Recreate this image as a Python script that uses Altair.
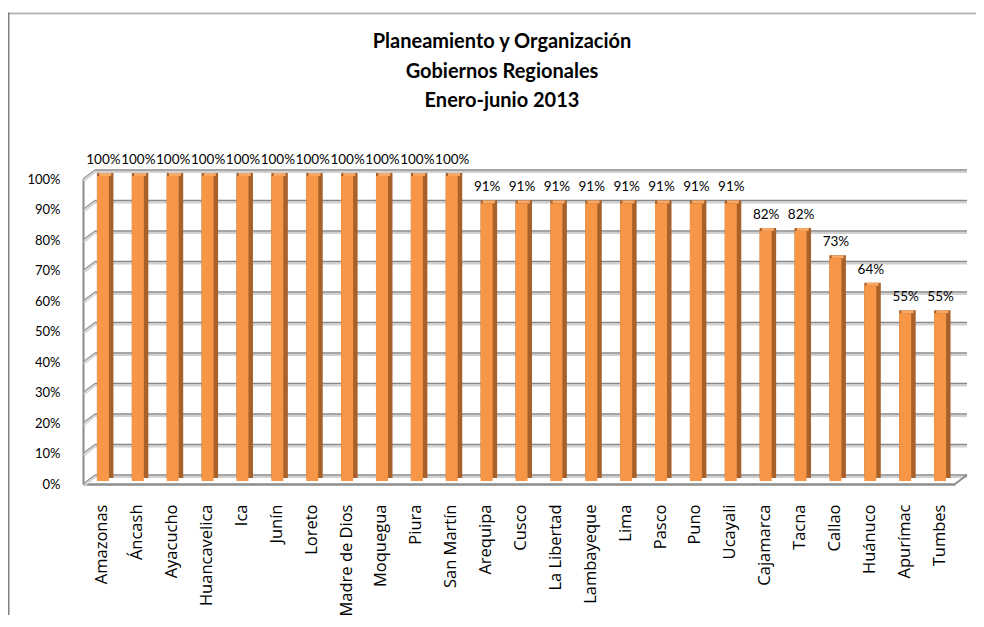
import altair as alt
import pandas as pd

# ---------------- data ----------------
REGIONS = ["Amazonas", "Áncash", "Ayacucho", "Huancavelica", "Ica", "Junín",
           "Loreto", "Madre de Dios", "Moquegua", "Piura", "San Martín",
           "Arequipa", "Cusco", "La Libertad", "Lambayeque", "Lima", "Pasco",
           "Puno", "Ucayali", "Cajamarca", "Tacna", "Callao", "Huánuco",
           "Apurímac", "Tumbes"]
VALUES = [1.00, 1.00, 1.00, 1.00, 1.00, 1.00, 1.00, 1.00, 1.00, 1.00, 1.00,
          0.91, 0.91, 0.91, 0.91, 0.91, 0.91, 0.91, 0.91,
          0.82, 0.82, 0.73, 0.64, 0.55, 0.55]
TICKS = [0.0, 0.1, 0.2, 0.3, 0.4, 0.5, 0.6, 0.7, 0.8, 0.9, 1.0]
TITLE_LINES = ["Planeamiento y Organización", "Gobiernos Regionales", "Enero-junio 2013"]

df = pd.DataFrame({"region": REGIONS, "valor": VALUES})

# ---------------- geometry / style ----------------
W, H = 872, 305
DX, DY = 12, -9
FRONT = "#F79646"
SIDE = "#A9612B"
TOP = "#F9A866"

yscale = alt.Scale(domain=[0, 1], nice=False, zero=True)
xenc = alt.X("region:N", sort=REGIONS,
             scale=alt.Scale(paddingInner=0, paddingOuter=0),
             axis=alt.Axis(title=None, labelAngle=-90, labelFont="Open Sans",
                           labelFontSize=16.5, labelColor="#000000",
                           labelPadding=20, labelOffset=2, ticks=False, tickSize=0,
                           domainColor="#8c8c8c", domainWidth=2.5, grid=False))
yaxis = alt.Axis(title=None, values=TICKS, format=".0%", labelFont="Lato",
                 labelFontSize=13, labelColor="#000000", labelPadding=23,
                 ticks=False, tickSize=0, domainColor="#8a8a8a", domainWidth=2,
                 grid=False)

ticks_data = alt.Data(values=[{"v": t} for t in TICKS])
zero_data = alt.Data(values=[{"v": TICKS[0]}])
one_row = alt.Data(values=[{"k": 0}])

# chart frame
frame_top = alt.Chart(one_row).mark_rule(color="#b8b8b8", strokeWidth=2).encode(
    x=alt.value(-75), x2=alt.value(W + 60), y=alt.value(-165.5))
frame_left = alt.Chart(one_row).mark_rule(color="#808080", strokeWidth=1.5).encode(
    x=alt.value(-74.25), y=alt.value(-166.5), y2=alt.value(H + 140))

# back wall gridlines (with light shadow)
grid_shadow = alt.Chart(ticks_data).mark_rule(color="#d0d0d0", strokeWidth=2, yOffset=DY + 2).encode(
    y=alt.Y("v:Q", scale=yscale, axis=yaxis), x=alt.value(DX), x2=alt.value(W + DX))
grid = alt.Chart(ticks_data).mark_rule(color="#888888", strokeWidth=1.6, yOffset=DY).encode(
    y=alt.Y("v:Q", scale=yscale, axis=yaxis), x=alt.value(DX), x2=alt.value(W + DX))
# left wall slanted connectors
side_shadow = alt.Chart(ticks_data).mark_rule(color="#d6d6d6", strokeWidth=2, yOffset=2, y2Offset=DY + 2).encode(
    y=alt.Y("v:Q", scale=yscale, axis=yaxis), y2="v:Q", x=alt.value(1), x2=alt.value(DX))
side_lines = alt.Chart(ticks_data).mark_rule(color="#9a9a9a", strokeWidth=1.5, y2Offset=DY).encode(
    y=alt.Y("v:Q", scale=yscale, axis=yaxis), y2="v:Q", x=alt.value(0), x2=alt.value(DX))
# floor right slant
floor_right = alt.Chart(zero_data).mark_rule(color="#8c8c8c", strokeWidth=2, y2Offset=DY).encode(
    y=alt.Y("v:Q", scale=yscale, axis=yaxis), y2="v:Q", x=alt.value(W), x2=alt.value(W + DX))

base = alt.Chart(df)
bar_side = base.mark_bar(color=SIDE, width=16.5, xOffset=4.75, yOffset=-6, y2Offset=-6).encode(
    x=xenc, y=alt.Y("valor:Q", scale=yscale, axis=yaxis), y2=alt.datum(0))
bar_top = base.mark_bar(color=TOP, width=12, xOffset=4.75, yOffset=-6, y2Offset=-3).encode(
    x=xenc, y=alt.Y("valor:Q", scale=yscale, axis=yaxis), y2="valor:Q")
bar_front = base.mark_bar(color=FRONT, width=12, xOffset=2.5, yOffset=-3, y2Offset=-3).encode(
    x=xenc, y=alt.Y("valor:Q", scale=yscale, axis=yaxis), y2=alt.datum(0))
labels = base.mark_text(font="Lato", fontSize=13.5, color="#000000", baseline="middle",
                        align="center", xOffset=3, yOffset=-19).encode(
    x=xenc, y=alt.Y("valor:Q", scale=yscale, axis=yaxis),
    text=alt.Text("valor:Q", format=".0%"))

title_layers = []
for i, line in enumerate(TITLE_LINES):
    title_layers.append(
        alt.Chart(alt.Data(values=[{"t": line}])).mark_text(
            font="Lato", fontSize=20, fontWeight="bold", color="#000000",
            align="center", baseline="middle").encode(
            text="t:N", x=alt.value(419), y=alt.value(-137 + 29.5 * i)))

chart = alt.layer(
    frame_top, frame_left, grid_shadow, grid, side_shadow, side_lines, floor_right,
    bar_side, bar_top, bar_front, labels, *title_layers
).properties(
    width=W, height=H,
    autosize=alt.AutoSizeParams(type="none"),
    padding={"left": 75, "top": 171, "right": 21, "bottom": 131},
    background="#ffffff"
).configure_view(stroke=None)

chart.save("out.html", embed_options={"renderer": "svg", "actions": False})
